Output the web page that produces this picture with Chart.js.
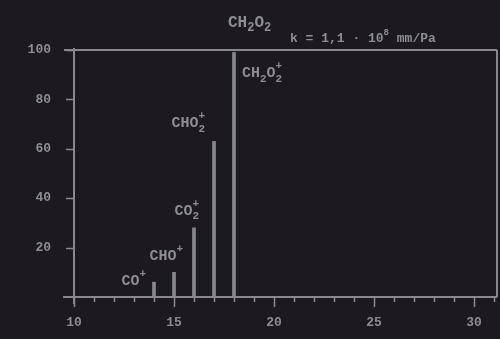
<!DOCTYPE html>
<html>
<head>
<meta charset="utf-8">
<script src="https://cdn.jsdelivr.net/npm/chart.js@4/dist/chart.umd.min.js"></script>
<style>
  html, body { margin: 0; padding: 0; background: #1c1a20; }
  #wrap { width: 500px; height: 339px; }
  canvas { filter: blur(0.6px); }
</style>
</head>
<body>
<div id="wrap"><canvas id="c" width="500" height="339"></canvas></div>
<script>
// Mass spectrum of formic acid: fragment ions and relative intensities
const masses = [14, 15, 16, 17, 18];
const intensities = [6, 10, 28, 63, 99];
// ion formulas: _x = subscript, ^x = superscript
const ions = ['CO^+', 'CHO^+', 'CO_2^+', 'CHO_2^+', 'CH_2O_2^+'];
const xTickLabels = [10, 15, 20, 25, 30];
const yTickLabels = [20, 40, 60, 80, 100];
const molecule = 'CH_2O_2';
const sensitivity = 'k = 1,1 · 10^8 mm/Pa';

const INK = '#8a888f';
const TEXT = '#8e8c94';
const FONT = '"Liberation Mono", "DejaVu Sans Mono", monospace';
const WEIGHT = 'bold ';

// label placement next to each bar: [anchor, dx, dy] in pixels from the bar top
const ionLabelPlacement = [
  ['right', -8, 3],
  ['right', 9, -12],
  ['right', 5, -13],
  ['right', -9, -14],
  ['left', 8, 25]
];

function tokens(str) {
  const out = [];
  for (let i = 0; i < str.length; i++) {
    const ch = str[i];
    if ((ch === '_' || ch === '^') && i + 1 < str.length) {
      out.push({ t: str[i + 1], k: ch === '_' ? 'sub' : 'sup' });
      i++;
    } else {
      out.push({ t: ch, k: 'n' });
    }
  }
  return out;
}

function drawFormula(ctx, str, x, y, size, align) {
  const tk = tokens(str);
  const small = Math.round(size * 0.72);
  const pass = (ox, draw) => {
    let cx = ox, prevSubW = 0, prevKind = 'n';
    for (const t of tk) {
      const fs = t.k === 'n' ? size : small;
      ctx.font = WEIGHT + fs + 'px ' + FONT;
      const w = ctx.measureText(t.t).width;
      let px = cx, py = y;
      if (t.k === 'sub') py = y + size * 0.28;
      if (t.k === 'sup') {
        py = y - size * 0.55;
        if (prevKind === 'sub') px = cx - prevSubW; // stack above subscript
      }
      if (draw) ctx.fillText(t.t, px, py);
      if (t.k === 'sup' && prevKind === 'sub') {
        cx = Math.max(cx, px + w);
      } else {
        cx += w;
      }
      prevSubW = t.k === 'sub' ? w : 0;
      prevKind = t.k;
    }
    return cx - ox;
  };
  const width = pass(x, false);
  const startX = align === 'right' ? x - width : (align === 'center' ? x - width / 2 : x);
  ctx.textAlign = 'left';
  ctx.textBaseline = 'alphabetic';
  pass(startX, true);
}

const annotate = {
  id: 'annotate',
  afterDraw(chart) {
    const ctx = chart.ctx;
    const xs = chart.scales.x, ys = chart.scales.y;
    const a = chart.chartArea;
    ctx.save();
    ctx.strokeStyle = INK;
    ctx.lineWidth = 2;
    ctx.lineCap = 'butt';
    // frame: top line, right edge, left axis, bottom axis
    ctx.beginPath();
    ctx.moveTo(a.left - 10, a.top); ctx.lineTo(a.right, a.top);
    ctx.moveTo(a.right, a.top); ctx.lineTo(a.right, a.bottom);
    ctx.moveTo(a.left, a.top - 2); ctx.lineTo(a.left, a.bottom + 7);
    ctx.moveTo(a.left - 11, a.bottom); ctx.lineTo(a.right, a.bottom);
    ctx.stroke();

    // x tick marks: every unit, longer at labelled values
    ctx.lineWidth = 1.5;
    ctx.beginPath();
    for (let v = Math.ceil(xs.min); v <= xs.max; v++) {
      const px = Math.round(xs.getPixelForValue(v)) + 0.5;
      const len = xTickLabels.includes(v) ? 10 : 5;
      ctx.moveTo(px, a.bottom); ctx.lineTo(px, a.bottom + len);
    }
    // y tick marks
    for (const v of yTickLabels) {
      const py = Math.round(ys.getPixelForValue(v)) + 0.5;
      ctx.moveTo(a.left - 8, py); ctx.lineTo(a.left, py);
    }
    ctx.stroke();

    // ion labels
    ctx.fillStyle = TEXT;
    masses.forEach((m, i) => {
      const bx = xs.getPixelForValue(m);
      const by = ys.getPixelForValue(intensities[i]);
      const [anchor, dx, dy] = ionLabelPlacement[i];
      drawFormula(ctx, ions[i], bx + dx, by + dy, 15, anchor);
    });

    // heading: molecule and sensitivity
    drawFormula(ctx, molecule, 228, 27, 16, 'left');
    drawFormula(ctx, sensitivity, 290, 42, 13, 'left');
    ctx.restore();
  }
};

new Chart(document.getElementById('c'), {
  type: 'bar',
  data: {
    datasets: [{
      data: masses.map((m, i) => ({ x: m, y: intensities[i] })),
      backgroundColor: INK,
      borderWidth: 0,
      barThickness: 3
    }]
  },
  options: {
    responsive: false,
    animation: false,
    events: [],
    layout: { padding: { top: 50, right: 3, left: 0, bottom: 0 } },
    plugins: { legend: { display: false }, tooltip: { enabled: false } },
    scales: {
      x: {
        type: 'linear',
        min: 10,
        max: 31.15,
        offset: false,
        grid: { display: false, offset: false },
        border: { display: false },
        afterFit(s) { s.height = 42; s.paddingLeft = 0; s.paddingRight = 0; },
        ticks: {
          stepSize: 1,
          autoSkip: false,
          maxRotation: 0,
          padding: 10,
          color: TEXT,
          font: { family: FONT, size: 13, weight: 'bold' },
          callback: (v) => xTickLabels.includes(v) ? String(v) : ''
        }
      },
      y: {
        min: 0,
        max: 100,
        grid: { display: false },
        border: { display: false },
        afterFit(s) { s.width = 74; },
        ticks: {
          stepSize: 20,
          padding: 15,
          color: TEXT,
          font: { family: FONT, size: 13, weight: 'bold' },
          callback: (v) => yTickLabels.includes(v) ? String(v) : ''
        }
      }
    }
  },
  plugins: [annotate]
});
</script>
</body>
</html>
